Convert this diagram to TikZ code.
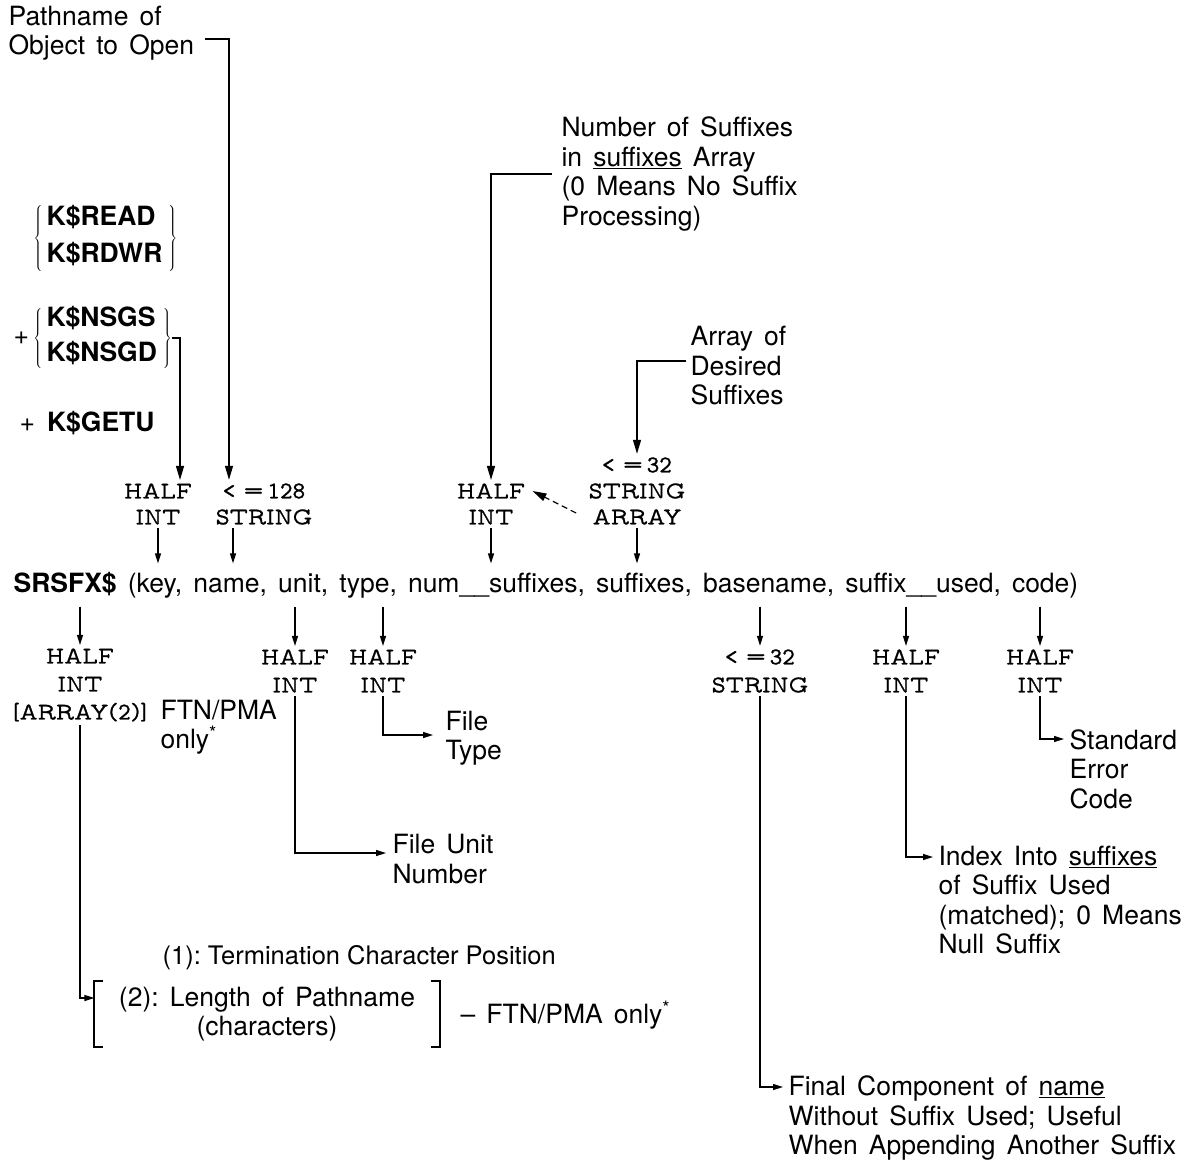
\documentclass[tikz,border=0pt]{standalone}
\usepackage{fontspec}
\setmainfont{TeX Gyre Heros}
\newfontfamily\tyfont{lmmonoprop10-regular}[Extension=.otf,FakeBold=1]
\usetikzlibrary{arrows.meta}
\newcommand\lbsize{\fontsize{26.5}{29.5}\selectfont\frenchspacing\spaceskip=0.42em plus 0.1em\relax}
\newcommand\tysize{\fontsize{24}{26}\selectfont\tyfont}
\newcommand\tylsize{\fontsize{24}{28}\selectfont\tyfont}
\begin{document}
\begin{tikzpicture}[x=1pt,y=-1pt,line width=1.2pt,
  lbl/.style={font=\lbsize,align=left,anchor=west,inner sep=0pt},
  ty/.style={font=\tysize,align=center,inner xsep=0pt,inner ysep=3pt},
  tyl/.style={ty,font=\tylsize},
  brk/.style={line width=2pt},
  big/.style={-{Triangle[length=14pt,width=8pt]}},
  tip/.style={-{Triangle[length=10pt,width=6pt]}}]
\useasboundingbox (0,0) rectangle (1188,1163);

\node[lbl] (path) at (8,33) {Pathname of\\Object to Open};
\node[lbl] (rw) at (33,238) {$\left\{\,\begin{tabular}{@{}l@{}}\bfseries K\$READ\\[8pt]\bfseries K\$RDWR\end{tabular}\hspace{6pt}\right\}$};
\node[lbl] (nsg) at (13,338) {+\,$\left\{\,\begin{tabular}{@{}l@{}}\bfseries K\$NSGS\\[6pt]\bfseries K\$NSGD\end{tabular}\hspace{6pt}\right\}$};
\node[lbl] (getu) at (19,423) {+\hspace{12pt}\textbf{K\$GETU}};
\node[lbl] (numlbl) at (561,174) {Number of Suffixes\\in \underline{suffixes} Array\\(0 Means No Suffix\\Processing)};
\node[lbl] (arrlbl) at (690,366) {Array of\\Desired\\Suffixes};

\node[ty] (keyty) at (158,504) {HALF\\INT};
\node[ty] (namety) at (264,504) {< =\,128\\STRING};
\node[ty] (numty) at (491,504) {HALF\\INT};
\node[ty] (sufty) at (637,491) {< =\,32\\STRING\\ARRAY};

\node[lbl,inner ysep=8pt] (sig) at (13,585) {\textbf{SRSFX\$} (key, name, unit, type, num\_\_suffixes, suffixes, basename, suffix\_\_used, code)};

\node[tyl] (tkey) at (80,685) {HALF\\INT\\{}[ARRAY(2)]};
\node[tyl] (tunit) at (295,671) {HALF\\INT};
\node[tyl] (ttype) at (383,671) {HALF\\INT};
\node[tyl] (tbase) at (760,671) {< =\,32\\STRING};
\node[tyl] (tused) at (906,671) {HALF\\INT};
\node[tyl] (tcode) at (1040,671) {HALF\\INT};

\node[lbl] (ftn) at (160,727) {FTN/PMA\\only\textsuperscript{*}};
\node[lbl] (typelbl) at (445,738) {File\\Type};
\node[lbl] (unitlbl) at (392,859) {File Unit\\Number};
\node[lbl] (codelbl) at (1069,769) {Standard\\Error\\Code};
\node[lbl] (usedlbl) at (938,900) {Index Into \underline{suffixes}\\of Suffix Used\\(matched); 0 Means\\Null Suffix};
\node[lbl,font=\fontsize{25.5}{29.5}\selectfont\frenchspacing] (term) at (162,958) {(1): Termination Character Position};
\node[lbl,anchor=center,align=center,inner xsep=24pt,inner ysep=5pt] (len) at (267,1014) {(2): Length of Pathname\\(characters)};
\node[lbl] (ftn2) at (460,1015) {-- FTN/PMA only\textsuperscript{*}};
\node[lbl] (baselbl) at (788,1118) {Final Component of \underline{name}\\Without Suffix Used; Useful\\When Appending Another Suffix};

\draw[brk] ([xshift=9pt]len.north west) -- (len.north west) -- (len.south west) -- ++(9,0);
\draw[brk] ([xshift=-9pt]len.north east) -- (len.north east) -- (len.south east) -- ++(-9,0);

\draw[big] ([xshift=10pt,yshift=-6pt]path.east) -| ([xshift=-35pt]namety.north);
\draw[big] (nsg.east) -| ([xshift=22pt]keyty.north);
\draw[big] ([xshift=-9pt]numlbl.west) -| (numty.north);
\draw[big] ([xshift=-4pt,yshift=5pt]arrlbl.west) -| (sufty.north);
\draw[big,dash pattern=on 6pt off 4pt] ([xshift=-12pt,yshift=-22pt]sufty.west) -- ([xshift=7pt,yshift=13pt]numty.east);

\draw[tip] (keyty.south) -- (keyty.south |- sig.north);
\draw[tip] ([xshift=-31pt]namety.south) -- ([xshift=-31pt]namety.south |- sig.north);
\draw[tip] (numty.south) -- (numty.south |- sig.north);
\draw[tip] (sufty.south) -- (sufty.south |- sig.north);

\foreach \t in {tkey,tunit,ttype,tbase,tused,tcode}
  \draw[tip] (\t.north |- sig.south) -- (\t.north);

\draw[tip] (tkey.south) |- ([yshift=16pt]len.west);
\draw[tip] (tunit.south) |- ([xshift=-6pt,yshift=6pt]unitlbl.west);
\draw[tip] (ttype.south) |- ([xshift=-12pt,yshift=3pt]typelbl.west);
\draw[tip] (tbase.south) |- ([xshift=-5pt,yshift=31pt]baselbl.west);
\draw[tip] (tused.south) |- ([xshift=-5pt,yshift=43pt]usedlbl.west);
\draw[tip] (tcode.south) |- ([xshift=-5pt,yshift=30pt]codelbl.west);
\end{tikzpicture}
\end{document}
